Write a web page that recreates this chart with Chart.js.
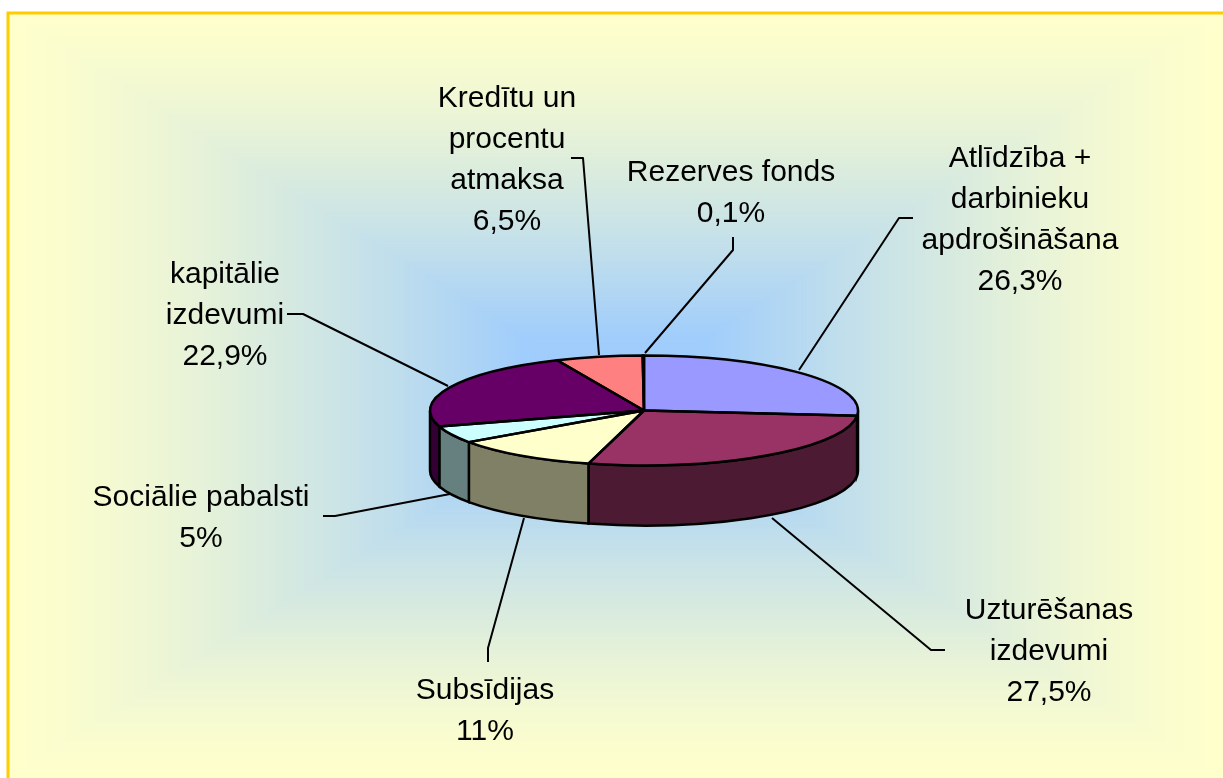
<!DOCTYPE html>
<html>
<head>
<meta charset="utf-8">
<title>Budžets</title>
<script src="https://cdn.jsdelivr.net/npm/chart.js@4"></script>
<style>
  html, body { margin: 0; background: #fff; }
  canvas { display: block; }
</style>
</head>
<body>
<canvas id="myChartPie" width="1223" height="778"></canvas>
<script>
// datu masīvi
const labels = ['Atlīdzība + darbinieku apdrošināšana', 'Uzturēšanas izdevumi', 'Subsīdijas',
  'Sociālie pabalsti', 'kapitālie izdevumi', 'Kredītu un procentu atmaksa', 'Rezerves fonds'];
const values = [26.3, 27.5, 11, 5, 22.9, 6.5, 0.1];
const valueLabels = ['26,3%', '27,5%', '11%', '5%', '22,9%', '6,5%', '0,1%'];
const topColors = ['#9999FF', '#993366', '#FFFFCC', '#CCFFFF', '#660066', '#FF8080', '#FFFFFF'];
const sideColors = ['#4D4D80', '#4D1A33', '#808066', '#668080', '#330033', '#804040', '#808080'];

// izkārtojums: teksta rindas un līdzinājuma līnijas
const calloutText = [
  { x: 1020, y: 159, lines: ['Atlīdzība +', 'darbinieku', 'apdrošināšana'] },
  { x: 1049, y: 611, lines: ['Uzturēšanas', 'izdevumi'] },
  { x: 485, y: 691, lines: ['Subsīdijas'] },
  { x: 201, y: 498, lines: ['Sociālie pabalsti'] },
  { x: 225, y: 275, lines: ['kapitālie', 'izdevumi'] },
  { x: 507, y: 99, lines: ['Kredītu un', 'procentu', 'atmaksa'] },
  { x: 731, y: 173, lines: ['Rezerves fonds'] }
];
const leaderPaths = [
  [[913, 218], [899, 218], [799, 370]],
  [[945, 650], [931, 650], [772, 518]],
  [[488, 662], [488, 648], [524, 518]],
  [[323, 516], [335, 516], [450, 494]],
  [[287, 314], [303, 314], [448, 386]],
  [[571, 158], [583, 158], [599, 355]],
  [[733, 237], [733, 250], [645, 353]]
];

const squash = 55 / 214;   // pīrāga slīpums
const depth = 60;          // sānu augstums
const lineH = 41;

const pie3d = {
  id: 'pie3d',
  beforeDraw(chart) {
    const ctx = chart.ctx;
    // fons: taisnstūra gradients no malām uz centru
    const L = 7, T = 12, R = 1223, B = 778;
    const cx = 615, cy = 395, steps = 200;
    const from = [255, 255, 204], to = [160, 205, 252];
    ctx.save();
    for (let i = 0; i < steps; i++) {
      const f = i / steps;
      const t = Math.min(1, Math.pow(f / 0.85, 1.35));
      const c = from.map((v, k) => Math.round(v + (to[k] - v) * t));
      ctx.fillStyle = `rgb(${c[0]},${c[1]},${c[2]})`;
      const x0 = L + (cx - L) * f, x1 = R - (R - cx) * f;
      const y0 = T + (cy - T) * f, y1 = B - (B - cy) * f;
      ctx.fillRect(x0, y0, x1 - x0, y1 - y0);
    }
    ctx.strokeStyle = '#FFCC00';
    ctx.lineWidth = 3;
    ctx.beginPath();
    ctx.moveTo(L + 1, B);
    ctx.lineTo(L + 1, T + 1);
    ctx.lineTo(R, T + 1);
    ctx.stroke();
    ctx.restore();
  },
  beforeDatasetsDraw(chart) {
    const ctx = chart.ctx;
    const arcs = chart.getDatasetMeta(0).data;
    // sānu virsma: redzama tikai priekšējā puse
    ctx.save();
    ctx.lineWidth = 2.5;
    ctx.strokeStyle = '#000';
    arcs.forEach((arc, i) => {
      const a = Math.max(arc.startAngle, 0);
      const b = Math.min(arc.endAngle, Math.PI);
      if (b <= a) return;
      const rx = arc.outerRadius, ry = rx * squash;
      ctx.beginPath();
      ctx.ellipse(arc.x, arc.y, rx, ry, 0, a, b);
      ctx.ellipse(arc.x, arc.y + depth, rx, ry, 0, b, a, true);
      ctx.closePath();
      ctx.fillStyle = sideColors[i];
      ctx.fill();
      ctx.stroke();
    });
    ctx.restore();
    // pašu pīrāgu zīmē Chart.js, tikai saplacinātu
    const first = arcs[0];
    ctx.save();
    ctx.translate(first.x, first.y);
    ctx.scale(1, squash);
    ctx.translate(-first.x, -first.y);
  },
  afterDatasetsDraw(chart) {
    const ctx = chart.ctx;
    ctx.restore();
    const arcs = chart.getDatasetMeta(0).data;
    ctx.save();
    ctx.lineWidth = 2.5;
    ctx.lineJoin = 'round';
    ctx.strokeStyle = '#000';
    arcs.forEach(arc => {
      const rx = arc.outerRadius, ry = rx * squash;
      ctx.beginPath();
      ctx.moveTo(arc.x, arc.y);
      ctx.ellipse(arc.x, arc.y, rx, ry, 0, arc.startAngle, arc.endAngle);
      ctx.closePath();
      ctx.stroke();
    });
    // līnijas
    ctx.lineWidth = 2;
    leaderPaths.forEach(path => {
      ctx.beginPath();
      path.forEach((p, i) => i ? ctx.lineTo(p[0], p[1]) : ctx.moveTo(p[0], p[1]));
      ctx.stroke();
    });
    // teksti
    ctx.fillStyle = '#000';
    ctx.font = '30px "Liberation Sans", Arial, sans-serif';
    ctx.textAlign = 'center';
    ctx.textBaseline = 'middle';
    calloutText.forEach((c, i) => {
      c.lines.concat(valueLabels[i]).forEach((s, n) => ctx.fillText(s, c.x, c.y + n * lineH));
    });
    ctx.restore();
  }
};

const configPie = {
  type: 'pie',
  data: {
    labels: labels,
    datasets: [{
      data: values,
      backgroundColor: topColors,
      borderWidth: 0
    }]
  },
  options: {
    responsive: false,
    animation: false,
    layout: { padding: { left: 430, right: 365, top: 196.5, bottom: 153.5 } },
    plugins: {
      legend: { display: false },
      tooltip: { enabled: false }
    }
  },
  plugins: [pie3d]
};

const myChartPie = new Chart(document.getElementById('myChartPie'), configPie);
</script>
</body>
</html>
